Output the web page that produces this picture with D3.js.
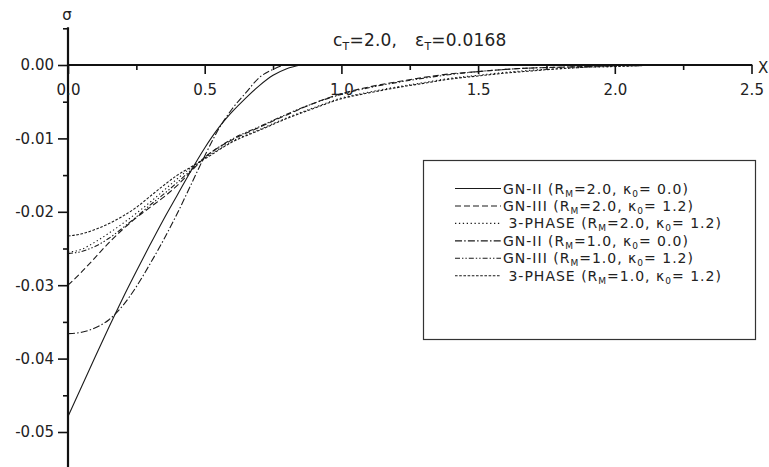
<!DOCTYPE html>
<html>
<head>
<meta charset="utf-8">
<script src="https://cdn.jsdelivr.net/npm/d3@7"></script>
<style>
  html, body { margin: 0; padding: 0; background: #fff; }
  svg { display: block; }
  text { font-family: "DejaVu Sans", "Liberation Sans", Arial, sans-serif; fill: #222; white-space: pre; }
</style>
</head>
<body>
<svg id="chart" width="769" height="467"></svg>
<script>
// ---------------- data ----------------
const xTicksMajor = [0, 0.5, 1.0, 1.5, 2.0, 2.5];
const xTicksMinor = [0.25, 0.75, 1.25, 1.75, 2.25];
const yTicksMajor = [0, -0.01, -0.02, -0.03, -0.04, -0.05];
const yTicksMinor = [0.005, -0.005, -0.015, -0.025, -0.035, -0.045];

// steep group (GN-II)
const xSteep = [0, 0.05, 0.1, 0.15, 0.2, 0.25, 0.3, 0.35, 0.4, 0.45, 0.5, 0.55, 0.6, 0.65, 0.7, 0.75, 0.8, 0.85];
const gn2R2 = [-0.0479, -0.0438, -0.0397, -0.0357, -0.0318, -0.0281, -0.0245, -0.0210, -0.0177, -0.0144, -0.0113, -0.0086, -0.0064, -0.0045, -0.0028, -0.0014, -0.0005, 0];
const gn2R1 = [-0.0366, -0.0364, -0.0358, -0.0347, -0.0328, -0.0302, -0.0271, -0.0238, -0.0202, -0.0163, -0.0124, -0.0088, -0.0060, -0.0038, -0.0017, -0.0006, 0, 0];

// slow group (GN-III and 3-PHASE)
const xSlow = [0, 0.05, 0.1, 0.15, 0.2, 0.25, 0.3, 0.35, 0.4, 0.45, 0.5, 0.6, 0.7, 0.8, 0.9, 1.0, 1.1, 1.2, 1.3, 1.4, 1.5, 1.6, 1.7, 1.8, 1.9, 2.0, 2.1];
const gn3R2 = [-0.0300, -0.0282, -0.0262, -0.0242, -0.0224, -0.0208, -0.0194, -0.0180, -0.0164, -0.0145, -0.0126, -0.0102, -0.0085, -0.0068, -0.0052, -0.0039, -0.0030, -0.0023, -0.0017, -0.0012, -0.0009, -0.0006, -0.0004, -0.0003, -0.0002, -0.0001];
const ph3R2 = [-0.0255, -0.0251, -0.0241, -0.0229, -0.0216, -0.0202, -0.0187, -0.0171, -0.0155, -0.0140, -0.0127, -0.0104, -0.0088, -0.0072, -0.0058, -0.0045, -0.0037, -0.0030, -0.0024, -0.0018, -0.0014, -0.0010, -0.0007, -0.0005, -0.0003, -0.0002, -0.0001];
const gn3R1 = [-0.0257, -0.0254, -0.0247, -0.0236, -0.0222, -0.0207, -0.0191, -0.0176, -0.0160, -0.0143, -0.0126, -0.0101, -0.0084, -0.0067, -0.0052, -0.0040, -0.0031, -0.0024, -0.0018, -0.0013, -0.0009, -0.0006, -0.0004, -0.0003, -0.0002, -0.0001, 0];
const ph3R1 = [-0.0233, -0.0230, -0.0224, -0.0216, -0.0206, -0.0194, -0.0179, -0.0164, -0.0150, -0.0139, -0.0128, -0.0105, -0.0089, -0.0073, -0.0059, -0.0046, -0.0038, -0.0031, -0.0025, -0.0019, -0.0015, -0.0011, -0.0008, -0.0005, -0.0003, -0.0002, -0.0001];

const seriesNames = ["GN-II", "GN-III", " 3-PHASE", "GN-II", "GN-III", " 3-PHASE"];
const seriesRM = ["2.0", "2.0", "2.0", "1.0", "1.0", "1.0"];
const seriesK0 = ["0.0", "1.2", "1.2", "0.0", "1.2", "1.2"];

// ---------------- drawing ----------------
const svg = d3.select("#chart");
const x = d3.scaleLinear().domain([0, 2.5]).range([68, 751.5]);
const y = d3.scaleLinear().domain([0, -0.05]).range([65, 432]);

const series = [
  { xs: xSteep, ys: gn2R2, dash: null },
  { xs: xSlow, ys: gn3R2, dash: "6,3" },
  { xs: xSlow, ys: ph3R2, dash: "1.3,2.6" },
  { xs: xSteep, ys: gn2R1, dash: "7,2.2,1.5,2.2" },
  { xs: xSlow, ys: gn3R1, dash: "5,2,1.4,2,1.4,2" },
  { xs: xSlow, ys: ph3R1, dash: "2.6,1.6" }
];

const line = d3.line().x(d => x(d[0])).y(d => y(d[1])).curve(d3.curveMonotoneX);

const gCurves = svg.append("g");
series.forEach(s => {
  const pts = s.ys.map((v, i) => [s.xs[i], v]);
  gCurves.append("path")
    .attr("d", line(pts))
    .attr("fill", "none")
    .attr("stroke", "#1a1a1a")
    .attr("stroke-width", 1.1)
    .attr("stroke-dasharray", s.dash);
});

// Y axis
const yAxisMajor = d3.axisLeft(y).tickValues(yTicksMajor).tickSize(10).tickSizeOuter(0).tickPadding(4)
  .tickFormat(d => d === 0 ? "0.00" : d.toFixed(2));
const gy = svg.append("g").attr("transform", "translate(68,0)").call(yAxisMajor);
gy.select(".domain").remove();
gy.selectAll("text").style("font-size", "15px").style("font-family", "DejaVu Sans").attr("fill", "#222");
gy.selectAll("line").attr("stroke", "#111").attr("stroke-width", 1.6);
const yAxisMinor = d3.axisLeft(y).tickValues(yTicksMinor).tickSize(5).tickFormat("");
const gy2 = svg.append("g").attr("transform", "translate(68,0)").call(yAxisMinor);
gy2.select(".domain").remove();
gy2.selectAll("line").attr("stroke", "#111").attr("stroke-width", 1.6);
svg.append("line").attr("x1", 68).attr("x2", 68).attr("y1", y(0.005) - 1).attr("y2", 467)
  .attr("stroke", "#111").attr("stroke-width", 2.2);

// X axis
const xAxisMajor = d3.axisBottom(x).tickValues(xTicksMajor).tickSize(9).tickSizeOuter(0).tickPadding(10)
  .tickFormat(d3.format(".1f"));
const gx = svg.append("g").attr("transform", "translate(0," + y(0) + ")").call(xAxisMajor);
gx.select(".domain").remove();
gx.selectAll("text").style("font-size", "15px").style("font-family", "DejaVu Sans").attr("fill", "#222");
gx.selectAll("line").attr("stroke", "#111").attr("stroke-width", 1.6);
const xAxisMinor = d3.axisBottom(x).tickValues(xTicksMinor).tickSize(5).tickFormat("");
const gx2 = svg.append("g").attr("transform", "translate(0," + y(0) + ")").call(xAxisMinor);
gx2.select(".domain").remove();
gx2.selectAll("line").attr("stroke", "#111").attr("stroke-width", 1.6);
svg.append("line").attr("x1", 67).attr("x2", x(2.5) + 0.8).attr("y1", y(0)).attr("y2", y(0))
  .attr("stroke", "#111").attr("stroke-width", 2.2);

// axis titles
svg.append("text").attr("x", 67).attr("y", 20).attr("text-anchor", "middle")
  .style("font-size", "15px").text("σ");
svg.append("text").attr("x", 758).attr("y", 73).style("font-size", "15px").text("X");

// title
const t1 = svg.append("text").attr("x", 333).attr("y", 46).style("font-size", "17px").style("letter-spacing", "0.2px");
t1.append("tspan").text("c");
t1.append("tspan").attr("dy", 4).style("font-size", "11px").text("T");
t1.append("tspan").attr("dy", -4).text("=2.0,");
const t2 = svg.append("text").attr("x", 415).attr("y", 46).style("font-size", "17px").style("letter-spacing", "0.2px");
t2.append("tspan").text("ε");
t2.append("tspan").attr("dy", 4).style("font-size", "11px").text("T");
t2.append("tspan").attr("dy", -4).text("=0.0168");

// legend
svg.append("rect").attr("x", 423.5).attr("y", 160.5).attr("width", 332).attr("height", 179)
  .attr("fill", "none").attr("stroke", "#333").attr("stroke-width", 1.2);
const legY0 = 188.5, legDy = 17.45;
series.forEach((s, i) => {
  const yy = legY0 + i * legDy;
  svg.append("line").attr("x1", 455).attr("x2", 501).attr("y1", yy).attr("y2", yy)
    .attr("stroke", "#1a1a1a").attr("stroke-width", 1.1).attr("stroke-dasharray", s.dash);
  const t = svg.append("text").attr("x", 503).attr("y", yy + 5)
    .style("font-size", "14px").style("letter-spacing", "1px");
  t.append("tspan").text(seriesNames[i] + " (R");
  t.append("tspan").attr("dy", 3).style("font-size", "9px").text("M");
  t.append("tspan").attr("dy", -3).text("=" + seriesRM[i] + ", κ");
  t.append("tspan").attr("dy", 3).style("font-size", "9px").text("0");
  t.append("tspan").attr("dy", -3).text("= " + seriesK0[i] + ")");
});
</script>
</body>
</html>
